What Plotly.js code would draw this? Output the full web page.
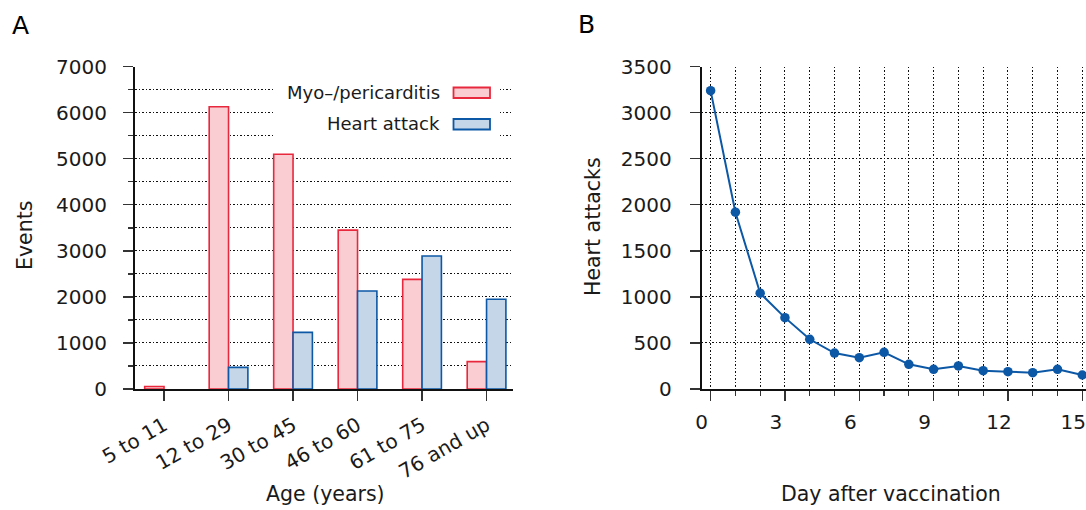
<!DOCTYPE html>
<html><head><meta charset="utf-8">
<script src="https://cdn.plot.ly/plotly-3.0.1.min.js"></script>
<style>html,body{margin:0;padding:0;background:#fff}#chart{width:1086px;height:510px}</style>
</head><body><div id="chart"></div><script>
const ageGroups = ['5 to 11', '12 to 29', '30 to 45', '46 to 60', '61 to 75', '76 and up'];
const myoEvents = [55, 6130, 5100, 3450, 2380, 595];
const heartEvents = [0, 470, 1230, 2130, 2890, 1950];
const days = [0, 1, 2, 3, 4, 5, 6, 7, 8, 9, 10, 11, 12, 13, 14, 15];
const heartAttacksByDay = [3240, 1920, 1040, 775, 540, 390, 340, 398, 268, 214, 250, 199, 188, 177, 214, 152];
const seriesNames = ['Myo\u2013/pericarditis', 'Heart attack'];
const axisTitles = {ageX: 'Age (years)', eventsY: 'Events', dayX: 'Day after vaccination', heartY: 'Heart attacks'};

const W = 1086, H = 510;
const px = v => v / W;
const py = v => 1 - v / H;
const FONT = 'DejaVu Sans';
const TXT = '#1a1a1a';
const RED = '#e8283c', RED_FILL = '#f9cdd2';
const BLUE = '#0c58a6', BLUE_FILL = '#c5d6e9';
const GRID = {showgrid: true, gridcolor: '#111', gridwidth: 1, griddash: '1.5px,2px'};

const traces = [
  {type: 'bar', x: ageGroups, y: myoEvents, name: seriesNames[0], xaxis: 'x', yaxis: 'y',
   marker: {color: RED_FILL, line: {color: RED, width: 1.6}}},
  {type: 'bar', x: ageGroups, y: heartEvents, name: seriesNames[1], xaxis: 'x', yaxis: 'y',
   marker: {color: BLUE_FILL, line: {color: BLUE, width: heartEvents.map(v => v > 0 ? 1.6 : 0)}}},
  {type: 'scatter', mode: 'lines+markers', x: days, y: heartAttacksByDay, xaxis: 'x2', yaxis: 'y2',
   line: {color: BLUE, width: 2}, marker: {color: BLUE, size: 9.5}}
];

const tickFont = {family: FONT, size: 20, color: TXT};
const titleFont = {family: FONT, size: 20.5, color: TXT};
const axisCommon = {showline: true, linecolor: '#111', linewidth: 2, ticks: 'outside', ticklen: 10,
  tickwidth: 1.3, tickcolor: '#333', zeroline: false, tickfont: tickFont, fixedrange: true,
  automargin: false, ticklabeloverflow: 'allow'};
const yDomain = [py(389), py(66.7)];

function titleNote(text, x, y, angle) {
  return {xref: 'paper', yref: 'paper', x: px(x), y: py(y), xanchor: 'center', yanchor: 'middle',
    text: text, textangle: angle || 0, showarrow: false, font: titleFont};
}

const layout = {
  width: W, height: H, margin: {l: 0, r: 0, t: 0, b: 0},
  paper_bgcolor: '#fff', plot_bgcolor: '#fff', showlegend: false, hovermode: false,
  barmode: 'group', bargap: 0.4, bargroupgap: 0,
  font: {family: FONT, color: TXT},
  xaxis: Object.assign({}, axisCommon, {domain: [px(135), px(513)], anchor: 'y', type: 'category',
    range: [-0.45, 5.41], tickangle: -30, showgrid: false, ticklabelstandoff: 5}),
  yaxis: Object.assign({}, axisCommon, GRID, {domain: yDomain, anchor: 'x', range: [0, 7000],
    tick0: 0, dtick: 1000, ticklabelstandoff: 12,
    minor: Object.assign({dtick: 500, ticklen: 5, tickwidth: 1.3, tickcolor: '#333', ticks: 'outside'}, GRID)}),
  xaxis2: Object.assign({}, axisCommon, GRID, {domain: [px(701.7), 1], anchor: 'y2',
    range: [-0.36, 15.15], tick0: 0, dtick: 3, ticklabelshift: -9, ticklabelstandoff: 4,
    minor: Object.assign({dtick: 1, ticklen: 5, tickwidth: 1.3, tickcolor: '#333', ticks: 'outside'}, GRID)}),
  yaxis2: Object.assign({}, axisCommon, GRID, {domain: yDomain, anchor: 'x2', range: [0, 3500],
    tick0: 0, dtick: 500, ticklabelstandoff: 14}),
  shapes: [
    {type: 'rect', xref: 'paper', yref: 'paper', x0: px(275), x1: px(500), y0: py(72), y1: py(145),
     fillcolor: '#fff', line: {width: 0}, layer: 'above'},
    {type: 'rect', xref: 'paper', yref: 'paper', x0: px(453.5), x1: px(490), y0: py(87.5), y1: py(98),
     fillcolor: RED_FILL, line: {color: RED, width: 1.8}, layer: 'above'},
    {type: 'rect', xref: 'paper', yref: 'paper', x0: px(453.5), x1: px(490), y0: py(119), y1: py(129.5),
     fillcolor: BLUE_FILL, line: {color: BLUE, width: 1.8}, layer: 'above'}
  ],
  annotations: [
    {xref: 'paper', yref: 'paper', x: px(442), y: py(92.5), xanchor: 'right', yanchor: 'middle',
     text: seriesNames[0], showarrow: false, font: {family: FONT, size: 18, color: TXT}},
    {xref: 'paper', yref: 'paper', x: px(442), y: py(123), xanchor: 'right', yanchor: 'middle',
     text: seriesNames[1], showarrow: false, font: {family: FONT, size: 18, color: TXT}},
    {xref: 'paper', yref: 'paper', x: px(20), y: py(25), xanchor: 'center', yanchor: 'middle',
     text: 'A', showarrow: false, font: {family: FONT, size: 25, color: '#000'}},
    {xref: 'paper', yref: 'paper', x: px(586), y: py(24), xanchor: 'center', yanchor: 'middle',
     text: 'B', showarrow: false, font: {family: FONT, size: 25, color: '#000'}},
    titleNote(axisTitles.ageX, 325, 494),
    titleNote(axisTitles.eventsY, 25, 236, -90),
    titleNote(axisTitles.dayX, 891, 494),
    titleNote(axisTitles.heartY, 593, 227, -90)
  ]
};

Plotly.newPlot('chart', traces, layout, {displayModeBar: false, staticPlot: true});
</script></body></html>
